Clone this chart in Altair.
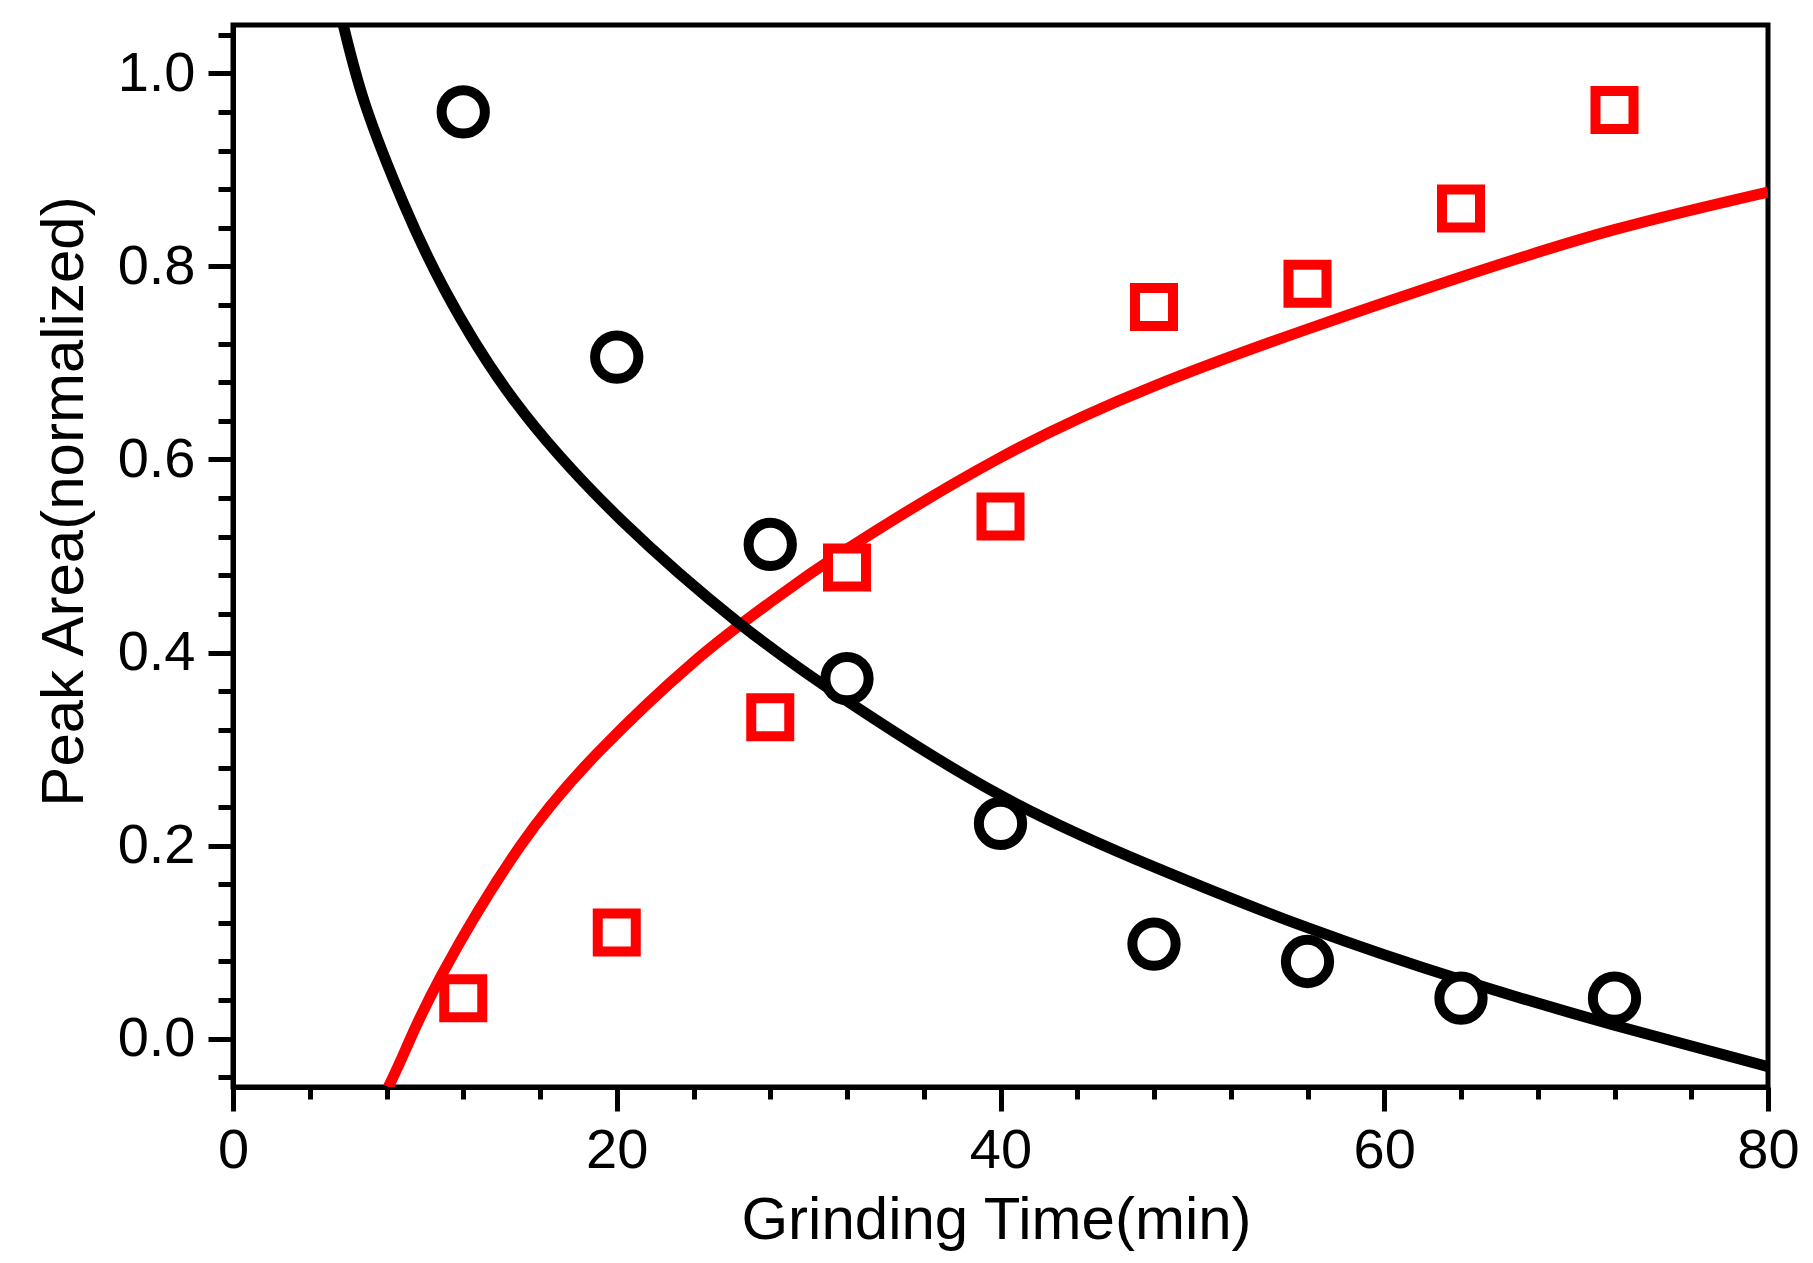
import altair as alt
import pandas as pd

# measured points
time_pts = [12, 20, 28, 32, 40, 48, 56, 64, 72]
circle_vals = [0.960, 0.706, 0.512, 0.373, 0.223, 0.098, 0.080, 0.042, 0.042]
square_vals = [0.042, 0.110, 0.333, 0.488, 0.541, 0.758, 0.782, 0.860, 0.962]

# fitted curves
black_fit_x = [5.7, 6.9, 8.87, 11.0, 14.7, 20.3, 26.4, 32.0, 40.0, 48.0, 56.0,
               64.0, 72.0, 80.0]
black_fit_y = [1.054, 0.967, 0.866, 0.777, 0.660, 0.536, 0.430, 0.350, 0.252,
               0.178, 0.115, 0.061, 0.014, -0.029]
red_fit_x = [8.1, 9.0, 10.9, 14.95, 19.1, 24.0, 28.0, 32.0, 40.0, 48.0, 56.0,
             64.0, 72.0, 80.0]
red_fit_y = [-0.05, -0.011, 0.067, 0.199, 0.298, 0.390, 0.452, 0.507, 0.602,
             0.676, 0.735, 0.789, 0.838, 0.877]

x_major = [0, 20, 40, 60, 80]
x_minor = [4, 8, 12, 16, 24, 28, 32, 36, 44, 48, 52, 56, 64, 68, 72, 76]
y_major = [0.0, 0.2, 0.4, 0.6, 0.8, 1.0]
y_minor = [-0.04, 0.04, 0.08, 0.12, 0.16, 0.24, 0.28, 0.32, 0.36, 0.44, 0.48, 0.52,
           0.56, 0.64, 0.68, 0.72, 0.76, 0.84, 0.88, 0.92, 0.96, 1.04]

FONT = "Liberation Sans"
X_DOMAIN = [0, 80]
Y_DOMAIN = [-0.05, 1.05]

pts = pd.DataFrame({"t": time_pts, "c": circle_vals, "s": square_vals})
black_df = pd.DataFrame({"t": black_fit_x, "v": black_fit_y})
red_df = pd.DataFrame({"t": red_fit_x, "v": red_fit_y})

xs = alt.Scale(domain=X_DOMAIN, nice=False, zero=False)
ys = alt.Scale(domain=Y_DOMAIN, nice=False, zero=False)

major_x_axis = alt.Axis(
    orient="bottom", values=x_major, format="d", tickSize=24, tickWidth=5,
    tickColor="black", domainColor="black", domainWidth=5, labelFont=FONT,
    labelFontSize=56, labelColor="black", labelPadding=12, grid=False,
    title="Grinding Time(min)", titleFont=FONT, titleFontSize=60,
    titleFontWeight="normal", titleColor="black", titleBaseline="alphabetic",
    titleX=763, titleY=151, labelFlush=False, labelOverlap=False,
)
major_y_axis = alt.Axis(
    orient="left", values=y_major, format=".1f", tickSize=25, tickWidth=5,
    tickColor="black", domainColor="black", domainWidth=5, labelFont=FONT,
    labelFontSize=56, labelColor="black", labelPadding=13, grid=False,
    title="Peak Area(normalized)", titleFont=FONT, titleFontSize=60,
    titleFontWeight="normal", titleColor="black", titleAngle=270,
    titleAlign="center", titleBaseline="alphabetic", titleX=-151, titleY=476,
    labelFlush=False, labelOverlap=False,
)
minor_x_axis = alt.Axis(
    orient="bottom", values=x_minor, tickSize=12, tickWidth=5, tickColor="black",
    labels=False, domain=False, grid=False, title=None,
)
minor_y_axis = alt.Axis(
    orient="left", values=y_minor, tickSize=15, tickWidth=5, tickColor="black",
    labels=False, domain=False, grid=False, title=None,
)

red_line = alt.Chart(red_df).mark_line(
    color="#FF0000", strokeWidth=11, interpolate="natural", clip=True
).encode(
    x=alt.X("t:Q", scale=xs, axis=minor_x_axis),
    y=alt.Y("v:Q", scale=ys, axis=minor_y_axis),
)

black_line = alt.Chart(black_df).mark_line(
    color="black", strokeWidth=11, interpolate="natural", clip=True
).encode(
    x=alt.X("t:Q", scale=xs, axis=major_x_axis),
    y=alt.Y("v:Q", scale=ys, axis=major_y_axis),
)

circles = alt.Chart(pts).mark_point(
    shape="circle", filled=True, fill="white", stroke="black", strokeWidth=10,
    size=1875, opacity=1, fillOpacity=1, strokeOpacity=1
).encode(
    x=alt.X("t:Q", scale=xs, axis=None),
    y=alt.Y("c:Q", scale=ys, axis=None),
)

squares = alt.Chart(pts).mark_point(
    shape="square", filled=True, fill="white", stroke="#FF0000", strokeWidth=10,
    size=1444, opacity=1, fillOpacity=1, strokeOpacity=1
).encode(
    x=alt.X("t:Q", scale=xs, axis=None),
    y=alt.Y("s:Q", scale=ys, axis=None),
)

chart = alt.layer(red_line, black_line, circles, squares).resolve_axis(
    x="independent", y="independent"
).properties(
    width=1535,
    height=1062,
    padding={"left": 225, "top": 17, "right": 37, "bottom": 168},
    autosize=alt.AutoSizeParams(type="none"),
    background="white",
).configure_view(
    stroke="black", strokeWidth=5, fill="white"
)

chart.save("out.html", embed_options={"renderer": "svg", "actions": False})
